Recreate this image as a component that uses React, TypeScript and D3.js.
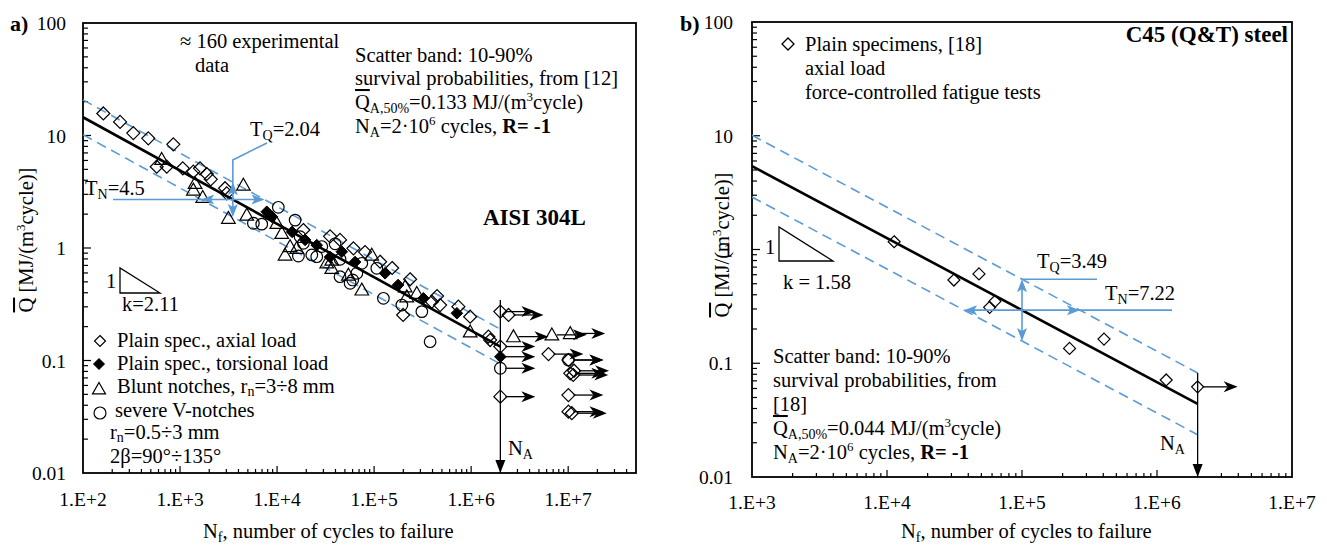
import React from 'react';
import * as d3 from 'd3';

type Pt = [number, number];

// ---------- Panel a) AISI 304L : [N cycles, Q MJ/(m3 cycle)] ----------
const axialFail: Pt[] = [
  [162, 15.7], [241, 13.2], [330, 10.5], [471, 9.44], [853, 8.35], [575, 5.28], [730, 5.28],
  [1067, 5.11], [1371, 4.77], [1607, 5.11], [1884, 4.55], [2073, 4.08], [2911, 3.4], [3027, 3.06],
  [18660, 1.445], [35170, 1.27], [44560, 1.18], [61230, 0.993], [80700, 0.92], [115300, 0.755],
  [153500, 0.664], [235000, 0.527], [199000, 0.254], [393700, 0.333], [445700, 0.374],
  [478800, 0.311], [739000, 0.301], [977000, 0.245], [1507000, 0.163], [1570000, 0.152],
];
const axialRunout: Pt[] = [
  [2e6, 0.272], [2.43e6, 0.254], [2e6, 0.133], [2e6, 0.0477], [6.27e6, 0.114], [1.006e7, 0.101],
  [1.05e7, 0.0769], [1.127e7, 0.0743], [1.15e7, 0.081], [1.006e7, 0.0493], [1.006e7, 0.0351], [1.09e7, 0.034],
];
const torsionFail: Pt[] = [
  [7830, 2.1], [8820, 1.9], [14290, 1.39], [19450, 1.18], [25640, 1.06], [35170, 0.832], [46450, 0.927],
  [63700, 0.751], [129700, 0.596], [176600, 0.469], [322300, 0.357], [713000, 0.263],
];
const torsionRunout: Pt[] = [[2e6, 0.108]];
const bluntFail: Pt[] = [
  [647, 6.14], [1429, 3.76], [1371, 3.28], [1714, 2.82], [4497, 3.63], [3148, 1.84], [4875, 1.96],
  [9930, 1.66], [11170, 1.35], [12080, 0.867], [13610, 1.03], [15960, 0.993], [32500, 0.74],
  [36610, 0.66], [36610, 0.782], [54330, 0.575], [74700, 0.424], [94600, 0.867], [208900, 0.453],
  [217100, 0.369], [275400, 0.396], [977000, 0.18],
];
const bluntRunout: Pt[] = [[2.73e6, 0.163], [6.79e6, 0.169], [1.05e7, 0.174]];
const notchFail: Pt[] = [
  [5700, 1.66], [6950, 1.63], [10300, 2.3], [15350, 1.77], [17260, 1.26], [16600, 0.849], [18660, 1.1],
  [22800, 0.867], [25640, 0.837], [28900, 1.03], [39630, 1.09], [44560, 0.794], [44560, 0.556],
  [56600, 0.486], [60260, 0.52], [66400, 0.596], [74660, 0.731], [106600, 0.66], [124700, 0.357],
  [193200, 0.311], [310500, 0.272], [377700, 0.147],
];
const notchRunout: Pt[] = [[2e6, 0.0853], [1.006e7, 0.101]];

// ---------- Panel b) C45 (Q&T) ----------
const c45Fail: Pt[] = [
  [11300, 1.17], [31300, 0.539], [48000, 0.61], [63000, 0.35], [57600, 0.31],
  [225000, 0.135], [405000, 0.163], [1.17e6, 0.0713],
];
const c45Runout: Pt[] = [[2e6, 0.062]];

// ---------- Axes ----------
const xTickValsA = [1e2, 1e3, 1e4, 1e5, 1e6, 1e7];
const xTickLabelsA = ['1.E+2', '1.E+3', '1.E+4', '1.E+5', '1.E+6', '1.E+7'];
const xTickValsB = [1e3, 1e4, 1e5, 1e6, 1e7];
const xTickLabelsB = ['1.E+3', '1.E+4', '1.E+5', '1.E+6', '1.E+7'];
const yTickVals = [0.01, 0.1, 1, 10, 100];
const yTickLabels = ['0.01', '0.1', '1', '10', '100'];

// ---------- Fitted curves (from annotations) ----------
const fitA = { qA: 0.133, nA: 2e6, k: 2.11, tq: 2.04, tn: 4.5, nStart: 1e2, nCross: 3500 };
const fitB = { qA: 0.044, nA: 2e6, k: 1.58, tq: 3.49, tn: 7.22, nStart: 1e3, nCross: 1e5 };

const BLUE = '#5b9bd5';
const FONT = '"Liberation Serif", "Times New Roman", Times, serif';
const FS = 20.5;

function qAt(f: typeof fitA, n: number, factor = 1) {
  return f.qA * Math.pow(f.nA / n, 1 / f.k) * factor;
}

function logTicks(lo: number, hi: number) {
  const out: { v: number; major: boolean }[] = [];
  for (let e = Math.floor(Math.log10(lo)); e <= Math.ceil(Math.log10(hi)); e++) {
    for (let m = 1; m <= 9; m++) {
      const v = m * Math.pow(10, e);
      if (v > lo * 1.0001 && v < hi * 0.9999) out.push({ v, major: m === 1 });
    }
  }
  return out;
}

function headPath(x: number, y: number, ang: number, len: number, hw: number, notch: number) {
  const c = Math.cos(ang), s = Math.sin(ang);
  const bx = x - len * c, by = y - len * s;
  const nx = x - (len - notch) * c, ny = y - (len - notch) * s;
  const px = -s * hw, py = c * hw;
  return `M${x},${y}L${bx + px},${by + py}L${nx},${ny}L${bx - px},${by - py}Z`;
}

const diamond = (x: number, y: number, r: number) => `M${x},${y - r}L${x + r},${y}L${x},${y + r}L${x - r},${y}Z`;
const triangle = (x: number, y: number, r: number) => `M${x},${y - r}L${x + r},${y + 0.75 * r}L${x - r},${y + 0.75 * r}Z`;

function Frame({ x0, x1, y0, y1, xs, ys, xlo, xhi }: any) {
  const xt = logTicks(xlo, xhi);
  const yt = logTicks(0.01, 100);
  return (
    <g>
      <rect x={x0} y={y0} width={x1 - x0} height={y1 - y0} fill="none" stroke="#000" strokeWidth={1.8} />
      {xt.map((t, i) => (
        <line key={'x' + i} x1={xs(t.v)} x2={xs(t.v)} y1={y1} y2={y1 - (t.major ? 7 : 4)} stroke="#000" strokeWidth={1.2} />
      ))}
      {yt.map((t, i) => (
        <line key={'y' + i} x1={x0} x2={x0 + (t.major ? 8 : 5)} y1={ys(t.v)} y2={ys(t.v)} stroke="#000" strokeWidth={1.2} />
      ))}
    </g>
  );
}

function Runouts({ pts, xs, ys, len }: any) {
  return (
    <g>
      {pts.map((p: Pt, i: number) => {
        const x = xs(p[0]), y = ys(p[1]);
        return (
          <g key={i}>
            <line x1={x + 5} y1={y} x2={x + len - 10} y2={y} stroke="#000" strokeWidth={1.3} />
            <path d={headPath(x + len, y, 0, 14, 5.5, 4)} fill="#000" />
          </g>
        );
      })}
    </g>
  );
}

function Bands({ f, xs, ys, nEnd }: any) {
  const band = Math.sqrt(f.tq);
  const seg = (fac: number) => [[f.nStart, qAt(f, f.nStart, fac)], [nEnd, qAt(f, nEnd, fac)]] as Pt[];
  const line = d3.line<Pt>().x((d) => xs(d[0])).y((d) => ys(d[1]));
  return (
    <g>
      <path d={line(seg(band)) || ''} stroke={BLUE} strokeWidth={1.6} strokeDasharray="10,6" fill="none" />
      <path d={line(seg(1 / band)) || ''} stroke={BLUE} strokeWidth={1.6} strokeDasharray="10,6" fill="none" />
      <path d={line(seg(1)) || ''} stroke="#000" strokeWidth={2.6} fill="none" />
    </g>
  );
}

export default function App() {
  const xa = d3.scaleLog().domain([1e2, 5e7]).range([83, 636]);
  const ya = d3.scaleLog().domain([0.01, 100]).range([473, 23]);
  const xb = d3.scaleLog().domain([1e3, 1e7]).range([752, 1292]);
  const yb = d3.scaleLog().domain([0.01, 100]).range([477, 22]);

  const bandA = Math.sqrt(fitA.tq);
  const cxA = xa(fitA.nCross);
  const yUpA = ya(qAt(fitA, fitA.nCross, bandA));
  const yLoA = ya(qAt(fitA, fitA.nCross, 1 / bandA));
  const yMidA = ya(qAt(fitA, fitA.nCross));
  const xLoA = xa(fitA.nCross / Math.sqrt(fitA.tn));
  const xHiA = xa(fitA.nCross * Math.sqrt(fitA.tn));

  const bandB = Math.sqrt(fitB.tq);
  const cxB = xb(fitB.nCross);
  const yUpB = yb(qAt(fitB, fitB.nCross, bandB));
  const yLoB = yb(qAt(fitB, fitB.nCross, 1 / bandB));
  const yMidB = yb(qAt(fitB, fitB.nCross));
  const xLoB = xb(fitB.nCross / Math.sqrt(fitB.tn));
  const xHiB = xb(fitB.nCross * Math.sqrt(fitB.tn));

  const xNA_A = xa(fitA.nA);
  const xNA_B = xb(fitB.nA);
  const yNAtopB = yb(qAt(fitB, fitB.nA, bandB));

  const ov = { textDecoration: 'overline' } as any;

  return (
    <svg width={1327} height={547} style={{ position: 'absolute', left: 0, top: 0, background: '#fff', fontFamily: FONT }}
      fontFamily={FONT} fontSize={FS}>
      <rect width={1327} height={547} fill="#fff" />

      {/* ================= Panel a ================= */}
      <Frame x0={83} x1={636} y0={23} y1={473} xs={xa} ys={ya} xlo={1e2} xhi={5e7} />
      <text x={10} y={31} fontWeight="bold" fontSize={22}>a)</text>
      {yTickVals.map((v, i) => (
        <text key={i} x={66} y={ya(v) + 7} textAnchor="end" fontSize={19.5}>{yTickLabels[i]}</text>
      ))}
      {xTickValsA.map((v, i) => (
        <text key={i} x={xa(v)} y={506} textAnchor="middle" fontSize={19.5}>{xTickLabelsA[i]}</text>
      ))}
      <text x={203} y={538}>N<tspan dy={4} fontSize={14}>f</tspan><tspan dy={-4}>, number of cycles to failure</tspan></text>
      <text transform="translate(33,240) rotate(-90)" textAnchor="middle">
        <tspan style={ov}>Q</tspan> [MJ/(m<tspan dy={-8} fontSize={13}>3</tspan><tspan dy={8}>cycle)]</tspan>
      </text>

      <Bands f={fitA} xs={xa} ys={ya} nEnd={fitA.nA} />

      {/* N_A vertical */}
      <line x1={xNA_A} x2={xNA_A} y1={ya(0.345)} y2={473 - 12} stroke="#000" strokeWidth={1.3} />
      <path d={headPath(xNA_A, 473, Math.PI / 2, 13, 5, 0)} fill="#000" />
      <text x={508} y={455}>N<tspan dy={4} fontSize={14}>A</tspan></text>

      {/* scatter markers */}
      <g fill="none" stroke="#000" strokeWidth={1.2}>
        {[...axialFail, ...axialRunout].map((p, i) => <path key={'ad' + i} d={diamond(xa(p[0]), ya(p[1]), 6.5)} />)}
        {[...bluntFail, ...bluntRunout].map((p, i) => <path key={'bt' + i} d={triangle(xa(p[0]), ya(p[1]), 6.8)} />)}
        {[...notchFail, ...notchRunout].map((p, i) => <circle key={'nc' + i} cx={xa(p[0])} cy={ya(p[1])} r={5.8} />)}
      </g>
      <g fill="#000" stroke="#000" strokeWidth={1}>
        {[...torsionFail, ...torsionRunout].map((p, i) => <path key={'td' + i} d={diamond(xa(p[0]), ya(p[1]), 5.8)} />)}
      </g>
      <Runouts pts={[...axialRunout, ...torsionRunout, ...bluntRunout, ...notchRunout]} xs={xa} ys={ya} len={35} />

      {/* T_Q callout & arrows */}
      <g stroke={BLUE} strokeWidth={1.6} fill="none">
        <polyline points={`267,143 ${cxA},160 ${cxA},${yLoA - 2}`} />
        <line x1={113} y1={yMidA} x2={xHiA - 2} y2={yMidA} />
      </g>
      <g fill={BLUE}>
        <path d={headPath(cxA, yUpA, -Math.PI / 2, 13, 5, 3)} />
        <path d={headPath(cxA, yLoA, Math.PI / 2, 13, 5, 3)} />
        <path d={headPath(xLoA, yMidA, Math.PI, 13, 5, 3)} />
        <path d={headPath(xHiA, yMidA, 0, 13, 5, 3)} />
      </g>
      <text x={250} y={136}>T<tspan dy={4} fontSize={14}>Q</tspan><tspan dy={-4}>=2.04</tspan></text>
      <text x={85} y={195}>T<tspan dy={4} fontSize={14}>N</tspan><tspan dy={-4}>=4.5</tspan></text>

      <text x={180} y={48}>≈ 160 experimental</text>
      <text x={195} y={72}>data</text>
      <text x={355} y={62}>Scatter band: 10-90%</text>
      <text x={355} y={85}>survival probabilities, from [12]</text>
      <text x={355} y={109}>
        <tspan style={ov}>Q</tspan><tspan dy={4} fontSize={14}>A,50%</tspan><tspan dy={-4}>=0.133 MJ/(m</tspan>
        <tspan dy={-8} fontSize={13}>3</tspan><tspan dy={8}>cycle)</tspan>
      </text>
      <text x={355} y={133}>
        N<tspan dy={4} fontSize={14}>A</tspan><tspan dy={-4}>=2·10</tspan><tspan dy={-8} fontSize={13}>6</tspan>
        <tspan dy={8}> cycles, </tspan><tspan fontWeight="bold">R= -1</tspan>
      </text>
      <text x={483} y={225} fontWeight="bold" fontSize={23}>AISI 304L</text>

      {/* slope triangle */}
      <path d="M120,268L120,293L160,293Z" fill="none" stroke="#000" strokeWidth={1.3} />
      <text x={106} y={288}>1</text>
      <text x={122} y={311}>k=2.11</text>

      {/* legend */}
      <path d={diamond(100, 341, 5.5)} fill="none" stroke="#000" strokeWidth={1.2} />
      <text x={117} y={347}>Plain spec., axial load</text>
      <path d={diamond(99, 364, 5.5)} fill="#000" stroke="#000" />
      <text x={117} y={370}>Plain spec., torsional load</text>
      <path d={triangle(99, 389, 6.5)} fill="none" stroke="#000" strokeWidth={1.2} />
      <text x={117} y={393}>Blunt notches, r<tspan dy={3} fontSize={14}>n</tspan><tspan dy={-3}>=3÷8 mm</tspan></text>
      <circle cx={100} cy={413} r={6} fill="none" stroke="#000" strokeWidth={1.2} />
      <text x={115} y={417}>severe V-notches</text>
      <text x={110} y={439}>r<tspan dy={3} fontSize={14}>n</tspan><tspan dy={-3}>=0.5÷3 mm</tspan></text>
      <text x={110} y={463}>2β=90°÷135°</text>

      {/* ================= Panel b ================= */}
      <Frame x0={752} x1={1292} y0={22} y1={477} xs={xb} ys={yb} xlo={1e3} xhi={1e7} />
      <text x={680} y={31} fontWeight="bold" fontSize={22}>b)</text>
      {yTickVals.map((v, i) => (
        <text key={i} x={733} y={yb(v) + 7} textAnchor="end" fontSize={19.5}>{yTickLabels[i]}</text>
      ))}
      {xTickValsB.map((v, i) => (
        <text key={i} x={xb(v)} y={509} textAnchor="middle" fontSize={19.5}>{xTickLabelsB[i]}</text>
      ))}
      <text x={901} y={538}>N<tspan dy={4} fontSize={14}>f</tspan><tspan dy={-4}>, number of cycles to failure</tspan></text>
      <text transform="translate(729,245) rotate(-90)" textAnchor="middle">
        <tspan style={ov}>Q</tspan> [MJ/(m<tspan dy={-8} fontSize={13}>3</tspan><tspan dy={8}>cycle)]</tspan>
      </text>

      <Bands f={fitB} xs={xb} ys={yb} nEnd={fitB.nA} />

      <line x1={xNA_B} x2={xNA_B} y1={yNAtopB} y2={477 - 12} stroke="#000" strokeWidth={1.3} />
      <path d={headPath(xNA_B, 477, Math.PI / 2, 13, 5, 0)} fill="#000" />
      <text x={1160} y={450}>N<tspan dy={4} fontSize={14}>A</tspan></text>

      <g fill="none" stroke="#000" strokeWidth={1.2}>
        {[...c45Fail, ...c45Runout].map((p, i) => <path key={'c' + i} d={diamond(xb(p[0]), yb(p[1]), 6)} />)}
      </g>
      <Runouts pts={c45Runout} xs={xb} ys={yb} len={40} />

      <g stroke={BLUE} strokeWidth={1.6} fill="none">
        <line x1={cxB} y1={yUpB + 2} x2={cxB} y2={yLoB - 2} />
        <line x1={cxB} y1={yUpB} x2={1097} y2={yUpB} />
        <line x1={xLoB + 2} y1={yMidB} x2={1172} y2={yMidB} />
      </g>
      <g fill={BLUE}>
        <path d={headPath(cxB, yUpB, -Math.PI / 2, 13, 5, 3)} />
        <path d={headPath(cxB, yLoB, Math.PI / 2, 13, 5, 3)} />
        <path d={headPath(xLoB, yMidB, Math.PI, 13, 5, 3)} />
        <path d={headPath(xHiB, yMidB, 0, 13, 5, 3)} />
      </g>
      <text x={1037} y={268}>T<tspan dy={4} fontSize={14}>Q</tspan><tspan dy={-4}>=3.49</tspan></text>
      <text x={1105} y={300}>T<tspan dy={4} fontSize={14}>N</tspan><tspan dy={-4}>=7.22</tspan></text>

      <path d={diamond(788, 44, 6)} fill="none" stroke="#000" strokeWidth={1.3} />
      <text x={805} y={51}>Plain specimens, [18]</text>
      <text x={805} y={75}>axial load</text>
      <text x={805} y={99}>force-controlled fatigue tests</text>
      <text x={1288} y={42} textAnchor="end" fontWeight="bold" fontSize={23}>C45 (Q&amp;T) steel</text>

      <path d="M779,227L779,261L833,261Z" fill="none" stroke="#000" strokeWidth={1.3} />
      <text x={765} y={254}>1</text>
      <text x={783} y={289}>k = 1.58</text>

      <text x={773} y={363}>Scatter band: 10-90%</text>
      <text x={773} y={387}>survival probabilities, from</text>
      <text x={773} y={411}>[18]</text>
      <text x={773} y={435}>
        <tspan style={ov}>Q</tspan><tspan dy={4} fontSize={14}>A,50%</tspan><tspan dy={-4}>=0.044 MJ/(m</tspan>
        <tspan dy={-8} fontSize={13}>3</tspan><tspan dy={8}>cycle)</tspan>
      </text>
      <text x={773} y={459}>
        N<tspan dy={4} fontSize={14}>A</tspan><tspan dy={-4}>=2·10</tspan><tspan dy={-8} fontSize={13}>6</tspan>
        <tspan dy={8}> cycles, </tspan><tspan fontWeight="bold">R= -1</tspan>
      </text>
    </svg>
  );
}
